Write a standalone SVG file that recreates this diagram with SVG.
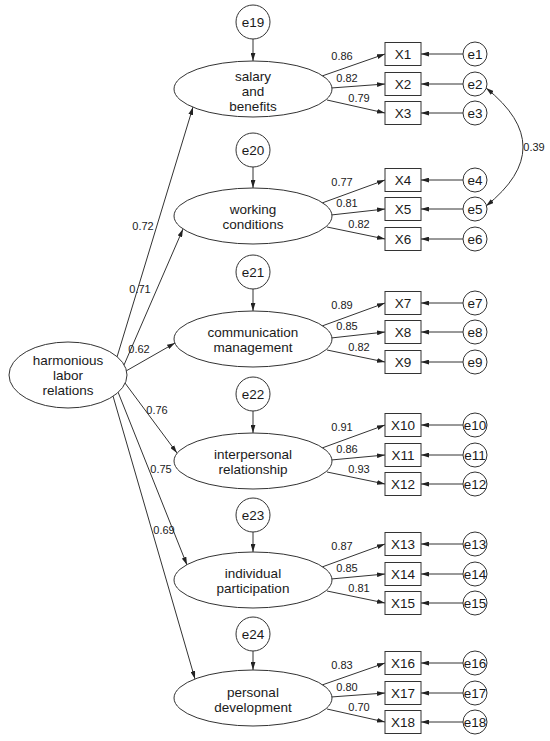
<svg xmlns="http://www.w3.org/2000/svg" width="550" height="741" viewBox="0 0 550 741">
<style>
.sh{fill:#fff;stroke:#333;stroke-width:1}
.ln{fill:none;stroke:#333;stroke-width:1}
.ar{marker-end:url(#ah)}
text{font-family:"Liberation Sans",Arial,sans-serif;fill:#1a1a1a;text-anchor:middle}
.t{font-size:13.5px}
.lb{font-size:11px}
</style>
<defs>
<marker id="ah" viewBox="0 0 10 6" refX="10" refY="3" markerWidth="8" markerHeight="5" markerUnits="userSpaceOnUse" orient="auto-start-reverse"><path d="M0,0 L10,3 L0,6 z" fill="#222"/></marker>
</defs>
<rect width="550" height="741" fill="#fff"/>

<g id="connectors">
<!-- structural paths -->
<path class="ln ar" d="M117,357 L193,107"/>
<path class="ln ar" d="M124,365 L183,229"/>
<path class="ln ar" d="M126,371 L175,343"/>
<path class="ln ar" d="M125,383 L177,453"/>
<path class="ln ar" d="M118,392 L187,565"/>
<path class="ln ar" d="M113,396 L195,679"/>
<!-- disturbances -->
<path class="ln ar" d="M253,39 L253,61"/>
<path class="ln ar" d="M253,167 L253,188"/>
<path class="ln ar" d="M253,289 L253,311"/>
<path class="ln ar" d="M253,411 L253,433"/>
<path class="ln ar" d="M253,532 L253,552"/>
<path class="ln ar" d="M253,651 L253,670"/>
<!-- loadings -->
<path class="ln ar" d="M322,76 L385,54"/><path class="ln ar" d="M331,88 L385,84"/><path class="ln ar" d="M327,100 L385,113"/>
<path class="ln ar" d="M322,203 L385,180"/><path class="ln ar" d="M331,215 L385,209"/><path class="ln ar" d="M327,227 L385,239"/>
<path class="ln ar" d="M322,326 L385,303"/><path class="ln ar" d="M331,338 L385,332"/><path class="ln ar" d="M327,350 L385,362"/>
<path class="ln ar" d="M322,448 L385,425"/><path class="ln ar" d="M331,460 L385,455"/><path class="ln ar" d="M327,472 L385,484"/>
<path class="ln ar" d="M322,567 L385,544"/><path class="ln ar" d="M331,579 L385,574"/><path class="ln ar" d="M327,591 L385,603"/>
<path class="ln ar" d="M322,685 L385,663"/><path class="ln ar" d="M331,697 L385,693"/><path class="ln ar" d="M327,709 L385,722"/>
<!-- errors -->
<path class="ln ar" d="M463,54 L421,54"/><path class="ln ar" d="M463,84 L421,84"/><path class="ln ar" d="M463,113 L421,113"/>
<path class="ln ar" d="M463,180 L421,180"/><path class="ln ar" d="M463,209 L421,209"/><path class="ln ar" d="M463,239 L421,239"/>
<path class="ln ar" d="M463,303 L421,303"/><path class="ln ar" d="M463,332 L421,332"/><path class="ln ar" d="M463,362 L421,362"/>
<path class="ln ar" d="M463,425 L421,425"/><path class="ln ar" d="M463,455 L421,455"/><path class="ln ar" d="M463,484 L421,484"/>
<path class="ln ar" d="M463,544 L421,544"/><path class="ln ar" d="M463,574 L421,574"/><path class="ln ar" d="M463,603 L421,603"/>
<path class="ln ar" d="M463,663 L421,663"/><path class="ln ar" d="M463,693 L421,693"/><path class="ln ar" d="M463,722 L421,722"/>
<!-- covariance -->
<path class="ln" d="M486,88 Q560,147 486,206" marker-start="url(#ah)" marker-end="url(#ah)"/>
<!-- labels -->
<g class="lb">
<text x="143" y="230">0.72</text><text x="140" y="293">0.71</text><text x="139" y="353">0.62</text>
<text x="157" y="414">0.76</text><text x="161" y="473">0.75</text><text x="164" y="534">0.69</text>
<text x="534" y="151">0.39</text>
<text x="342" y="60">0.86</text><text x="347" y="82">0.82</text><text x="359" y="102">0.79</text>
<text x="342" y="186">0.77</text><text x="347" y="207">0.81</text><text x="359" y="228">0.82</text>
<text x="342" y="309">0.89</text><text x="347" y="330">0.85</text><text x="359" y="351">0.82</text>
<text x="342" y="431">0.91</text><text x="347" y="453">0.86</text><text x="359" y="473">0.93</text>
<text x="342" y="550">0.87</text><text x="347" y="572">0.85</text><text x="359" y="592">0.81</text>
<text x="342" y="669">0.83</text><text x="347" y="691">0.80</text><text x="359" y="711">0.70</text>
</g>
</g>

<g id="harmonious"><ellipse class="sh" cx="68" cy="375" rx="59" ry="33"/><text class="t" x="68" y="365">harmonious</text><text class="t" x="68" y="380">labor</text><text class="t" x="68" y="395">relations</text></g>

<g id="salary"><ellipse class="sh" cx="253" cy="89" rx="79" ry="28"/><text class="t" x="253" y="81">salary</text><text class="t" x="253" y="96">and</text><text class="t" x="253" y="111">benefits</text></g>
<g id="working"><ellipse class="sh" cx="253" cy="216" rx="79" ry="28"/><text class="t" x="253" y="214">working</text><text class="t" x="253" y="229">conditions</text></g>
<g id="communication"><ellipse class="sh" cx="253" cy="339" rx="79" ry="28"/><text class="t" x="253" y="337">communication</text><text class="t" x="253" y="352">management</text></g>
<g id="interpersonal"><ellipse class="sh" cx="253" cy="461" rx="79" ry="28"/><text class="t" x="253" y="459">interpersonal</text><text class="t" x="253" y="474">relationship</text></g>
<g id="individual"><ellipse class="sh" cx="253" cy="580" rx="79" ry="28"/><text class="t" x="253" y="578">individual</text><text class="t" x="253" y="593">participation</text></g>
<g id="personal"><ellipse class="sh" cx="253" cy="698" rx="79" ry="28"/><text class="t" x="253" y="697">personal</text><text class="t" x="253" y="712">development</text></g>

<g id="e19"><circle class="sh" cx="253" cy="22" r="17"/><text class="t" x="253" y="27">e19</text></g>
<g id="e20"><circle class="sh" cx="253" cy="150" r="17"/><text class="t" x="253" y="155">e20</text></g>
<g id="e21"><circle class="sh" cx="253" cy="272" r="17"/><text class="t" x="253" y="277">e21</text></g>
<g id="e22"><circle class="sh" cx="253" cy="394" r="17"/><text class="t" x="253" y="399">e22</text></g>
<g id="e23"><circle class="sh" cx="253" cy="515" r="17"/><text class="t" x="253" y="520">e23</text></g>
<g id="e24"><circle class="sh" cx="253" cy="634" r="17"/><text class="t" x="253" y="639">e24</text></g>

<g id="X1"><rect class="sh" x="385" y="42.5" width="36" height="23"/><text class="t" x="403" y="59">X1</text></g>
<g id="X2"><rect class="sh" x="385" y="72.5" width="36" height="23"/><text class="t" x="403" y="89">X2</text></g>
<g id="X3"><rect class="sh" x="385" y="101.5" width="36" height="23"/><text class="t" x="403" y="118">X3</text></g>
<g id="X4"><rect class="sh" x="385" y="168.5" width="36" height="23"/><text class="t" x="403" y="185">X4</text></g>
<g id="X5"><rect class="sh" x="385" y="197.5" width="36" height="23"/><text class="t" x="403" y="214">X5</text></g>
<g id="X6"><rect class="sh" x="385" y="227.5" width="36" height="23"/><text class="t" x="403" y="244">X6</text></g>
<g id="X7"><rect class="sh" x="385" y="291.5" width="36" height="23"/><text class="t" x="403" y="308">X7</text></g>
<g id="X8"><rect class="sh" x="385" y="320.5" width="36" height="23"/><text class="t" x="403" y="337">X8</text></g>
<g id="X9"><rect class="sh" x="385" y="350.5" width="36" height="23"/><text class="t" x="403" y="367">X9</text></g>
<g id="X10"><rect class="sh" x="385" y="413.5" width="36" height="23"/><text class="t" x="403" y="430">X10</text></g>
<g id="X11"><rect class="sh" x="385" y="443.5" width="36" height="23"/><text class="t" x="403" y="460">X11</text></g>
<g id="X12"><rect class="sh" x="385" y="472.5" width="36" height="23"/><text class="t" x="403" y="489">X12</text></g>
<g id="X13"><rect class="sh" x="385" y="532.5" width="36" height="23"/><text class="t" x="403" y="549">X13</text></g>
<g id="X14"><rect class="sh" x="385" y="562.5" width="36" height="23"/><text class="t" x="403" y="579">X14</text></g>
<g id="X15"><rect class="sh" x="385" y="591.5" width="36" height="23"/><text class="t" x="403" y="608">X15</text></g>
<g id="X16"><rect class="sh" x="385" y="651.5" width="36" height="23"/><text class="t" x="403" y="668">X16</text></g>
<g id="X17"><rect class="sh" x="385" y="681.5" width="36" height="23"/><text class="t" x="403" y="698">X17</text></g>
<g id="X18"><rect class="sh" x="385" y="710.5" width="36" height="23"/><text class="t" x="403" y="727">X18</text></g>

<g id="e1"><circle class="sh" cx="475" cy="54" r="12"/><text class="t" x="475" y="59">e1</text></g>
<g id="e2"><circle class="sh" cx="475" cy="84" r="12"/><text class="t" x="475" y="89">e2</text></g>
<g id="e3"><circle class="sh" cx="475" cy="113" r="12"/><text class="t" x="475" y="118">e3</text></g>
<g id="e4"><circle class="sh" cx="475" cy="180" r="12"/><text class="t" x="475" y="185">e4</text></g>
<g id="e5"><circle class="sh" cx="475" cy="209" r="12"/><text class="t" x="475" y="214">e5</text></g>
<g id="e6"><circle class="sh" cx="475" cy="239" r="12"/><text class="t" x="475" y="244">e6</text></g>
<g id="e7"><circle class="sh" cx="475" cy="303" r="12"/><text class="t" x="475" y="308">e7</text></g>
<g id="e8"><circle class="sh" cx="475" cy="332" r="12"/><text class="t" x="475" y="337">e8</text></g>
<g id="e9"><circle class="sh" cx="475" cy="362" r="12"/><text class="t" x="475" y="367">e9</text></g>
<g id="e10"><circle class="sh" cx="475" cy="425" r="12"/><text class="t" x="475" y="430">e10</text></g>
<g id="e11"><circle class="sh" cx="475" cy="455" r="12"/><text class="t" x="475" y="460">e11</text></g>
<g id="e12"><circle class="sh" cx="475" cy="484" r="12"/><text class="t" x="475" y="489">e12</text></g>
<g id="e13"><circle class="sh" cx="475" cy="544" r="12"/><text class="t" x="475" y="549">e13</text></g>
<g id="e14"><circle class="sh" cx="475" cy="574" r="12"/><text class="t" x="475" y="579">e14</text></g>
<g id="e15"><circle class="sh" cx="475" cy="603" r="12"/><text class="t" x="475" y="608">e15</text></g>
<g id="e16"><circle class="sh" cx="475" cy="663" r="12"/><text class="t" x="475" y="668">e16</text></g>
<g id="e17"><circle class="sh" cx="475" cy="693" r="12"/><text class="t" x="475" y="698">e17</text></g>
<g id="e18"><circle class="sh" cx="475" cy="722" r="12"/><text class="t" x="475" y="727">e18</text></g>
</svg>
